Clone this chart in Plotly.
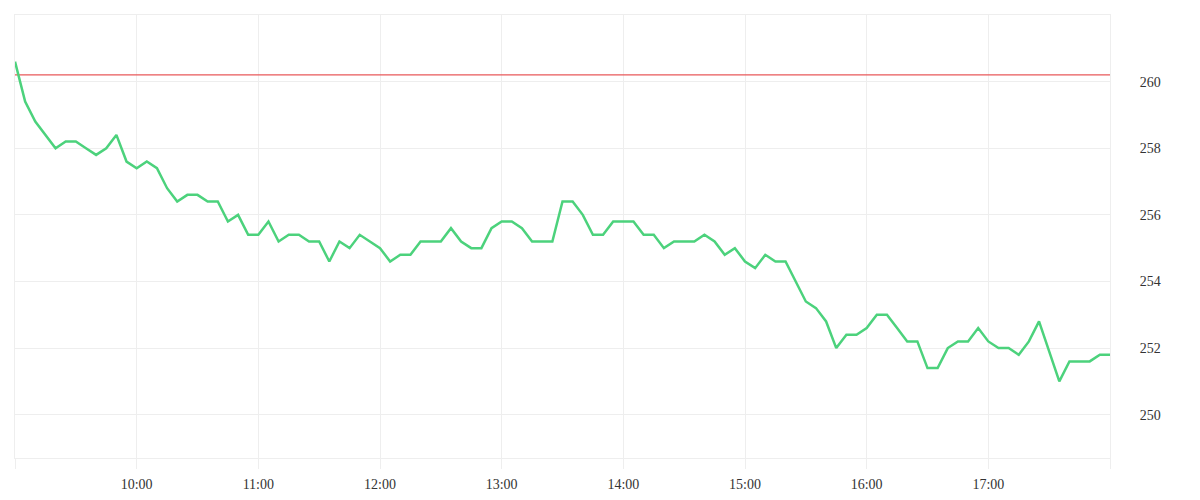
import plotly.graph_objects as go
import pandas as pd

start_time = "2024-01-02 09:00"
step_minutes = 5
prices = [
    260.6, 259.4, 258.8, 258.4, 258.0, 258.2, 258.2, 258.0, 257.8, 258.0, 258.4, 257.6,
    257.4, 257.6, 257.4, 256.8, 256.4, 256.6, 256.6, 256.4, 256.4, 255.8, 256.0, 255.4,
    255.4, 255.8, 255.2, 255.4, 255.4, 255.2, 255.2, 254.6, 255.2, 255.0, 255.4, 255.2,
    255.0, 254.6, 254.8, 254.8, 255.2, 255.2, 255.2, 255.6, 255.2, 255.0, 255.0, 255.6,
    255.8, 255.8, 255.6, 255.2, 255.2, 255.2, 256.4, 256.4, 256.0, 255.4, 255.4, 255.8,
    255.8, 255.8, 255.4, 255.4, 255.0, 255.2, 255.2, 255.2, 255.4, 255.2, 254.8, 255.0,
    254.6, 254.4, 254.8, 254.6, 254.6, 254.0, 253.4, 253.2, 252.8, 252.0, 252.4, 252.4,
    252.6, 253.0, 253.0, 252.6, 252.2, 252.2, 251.4, 251.4, 252.0, 252.2, 252.2, 252.6,
    252.2, 252.0, 252.0, 251.8, 252.2, 252.8, 251.9, 251.0, 251.6, 251.6, 251.6, 251.8,
    251.8,
]
prev_close = 260.2
y_range = [248.7, 262.0]
y_ticks = [250, 252, 254, 256, 258, 260]
x_tick_times = ["09:00", "10:00", "11:00", "12:00", "13:00", "14:00", "15:00",
                "16:00", "17:00", "18:00"]
x_tick_labels = ["", "10:00", "11:00", "12:00", "13:00", "14:00", "15:00",
                 "16:00", "17:00", ""]

times = pd.date_range(start=start_time, periods=len(prices), freq=f"{step_minutes}min")
day = start_time.split(" ")[0]
x_tick_vals = [pd.Timestamp(f"{day} {t}") for t in x_tick_times]

grid = "#eeeeee"
font = dict(family="Liberation Serif", size=14, color="#333333")

fig = go.Figure()
fig.add_trace(go.Scatter(
    x=[times[0], times[-1]], y=[prev_close, prev_close], mode="lines",
    line=dict(color="#e8595a", width=1.2), hoverinfo="skip", showlegend=False))
fig.add_trace(go.Scatter(
    x=times, y=prices, mode="lines",
    line=dict(color="#4cd27c", width=2.5), showlegend=False))

fig.update_layout(
    width=1200, height=500,
    margin=dict(l=7, r=98, t=7, b=50),
    paper_bgcolor="white", plot_bgcolor="white",
    font=font,
    xaxis=dict(
        type="date", range=[x_tick_vals[0], x_tick_vals[-1]],
        tickvals=x_tick_vals, ticktext=x_tick_labels,
        showgrid=True, gridcolor=grid, gridwidth=1,
        showline=True, linecolor=grid, linewidth=1, mirror=True,
        ticks="outside", ticklen=10, tickcolor=grid, tickwidth=1,
        ticklabelstandoff=3,
        zeroline=False, tickfont=font,
    ),
    yaxis=dict(
        side="right", range=y_range, tickvals=y_ticks,
        showgrid=True, gridcolor=grid, gridwidth=1,
        showline=True, linecolor=grid, linewidth=1, mirror=True,
        ticks="", ticklabelstandoff=26,
        zeroline=False, tickfont=font,
    ),
)

fig.write_html("out.html")
